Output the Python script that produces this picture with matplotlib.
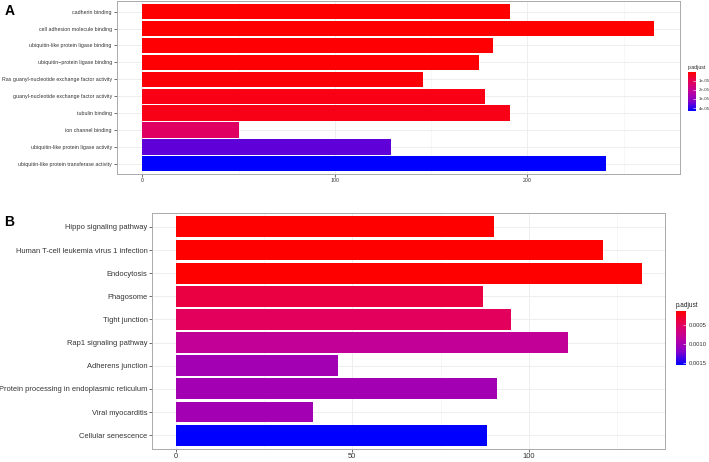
import matplotlib
matplotlib.use("Agg")
import matplotlib.pyplot as plt
from matplotlib.colors import LinearSegmentedColormap, Normalize
from matplotlib.ticker import MultipleLocator
import numpy as np

plt.rcParams['font.family'] = ['Liberation Sans', 'DejaVu Sans']

# panel A: GO terms
go_terms = ["cadherin binding", "cell adhesion molecule binding",
            "ubiquitin-like protein ligase binding", "ubiquitin\u2212protein ligase binding",
            "Ras guanyl-nucleotide exchange factor activity",
            "guanyl-nucleotide exchange factor activity", "tubulin binding",
            "ion channel binding", "ubiquitin-like protein ligase activity",
            "ubiquitin-like protein transferase activity"]
go_count = [191, 266, 182, 175, 146, 178, 191, 50, 129, 241]
go_padj = [1.5e-07, 1.5e-07, 6e-07, 6e-07, 1.2e-06, 2.6e-06, 2.8e-06,
           1.2e-05, 3.55e-05, 4.33e-05]
go_cbar_ticks = [1e-05, 2e-05, 3e-05, 4e-05]
go_cbar_labels = ["1e-05", "2e-05", "3e-05", "4e-05"]

# panel B: KEGG pathways
kegg_terms = ["Hippo signaling pathway", "Human T-cell leukemia virus 1 infection",
              "Endocytosis", "Phagosome", "Tight junction", "Rap1 signaling pathway",
              "Adherens junction", "Protein processing in endoplasmic reticulum",
              "Viral myocarditis", "Cellular senescence"]
kegg_count = [90, 121, 132, 87, 95, 111, 46, 91, 39, 88]
kegg_padj = [1.3e-04, 1.3e-04, 1.35e-04, 3.9e-04, 4.9e-04, 8.1e-04,
             1.01e-03, 1.01e-03, 1.01e-03, 1.55e-03]
kegg_cbar_ticks = [0.0005, 0.0010, 0.0015]
kegg_cbar_labels = ["0.0005", "0.0010", "0.0015"]

cmap = LinearSegmentedColormap.from_list(
    "redblue", [(0, "#FF0000"), (0.25, "#E2005C"), (0.5, "#BF009D"),
                (0.75, "#8500CB"), (1, "#0000FF")])

fig = plt.figure(figsize=(7.09, 4.62), dpi=100)


def panel(rect, cbrect, terms, counts, padj, xstep, ticks, tlabels, fs, cbfs, letter, lpos):
    ax = fig.add_axes(rect)
    n = len(terms)
    ypos = np.arange(n)[::-1] + 1
    norm = Normalize(min(padj), max(padj))
    ax.barh(ypos, counts, height=0.9, color=cmap(norm(np.array(padj))), zorder=3)
    ax.set_ylim(0.4, n + 0.6)
    mx = max(counts)
    ax.set_xlim(-0.05 * mx, 1.05 * mx)
    ax.set_yticks(ypos)
    ax.set_yticklabels(terms, fontsize=fs, color="#333333")
    ax.xaxis.set_major_locator(MultipleLocator(xstep))
    ax.xaxis.set_minor_locator(MultipleLocator(xstep / 2))
    ax.tick_params(axis="x", labelsize=fs, colors="#333333", length=2, width=0.5, pad=1)
    ax.tick_params(axis="y", length=2, width=0.5, colors="#333333", pad=1.5)
    ax.tick_params(axis="x", which="minor", length=0)
    ax.grid(True, which="major", color="#EBEBEB", lw=0.6, zorder=0)
    ax.grid(True, which="minor", axis="x", color="#F2F2F2", lw=0.4, zorder=0)
    for s in ax.spines.values():
        s.set_color("#AAAAAA")
        s.set_linewidth(0.7)
    fig.text(lpos[0], lpos[1], letter, fontsize=10, fontweight="bold", va="center", ha="left")

    cax = fig.add_axes(cbrect)
    cb = fig.colorbar(plt.cm.ScalarMappable(norm=norm, cmap=cmap), cax=cax)
    cb.outline.set_visible(False)
    cax.invert_yaxis()
    cb.set_ticks(ticks)
    cb.set_ticklabels(tlabels)
    cax.tick_params(labelsize=cbfs, length=2, width=0.4, color="white",
                    direction="in", pad=2, labelcolor="#333333")
    cax.set_title("p.adjust", fontsize=cbfs + 0.5, loc="left", pad=2.5, color="#222222")
    return ax


panel([0.1646, 0.6234, 0.7944, 0.3734], [0.9704, 0.7597, 0.0113, 0.0844],
      go_terms, go_count, go_padj, 100, go_cbar_ticks, go_cbar_labels,
      3.8, 3.2, "A", (0.006, 0.976))

panel([0.2148, 0.028, 0.7237, 0.511], [0.9535, 0.2100, 0.0141, 0.1169],
      kegg_terms, kegg_count, kegg_padj, 50, kegg_cbar_ticks, kegg_cbar_labels,
      5.4, 4.2, "B", (0.006, 0.519))

fig.savefig("out.png", dpi=100)
